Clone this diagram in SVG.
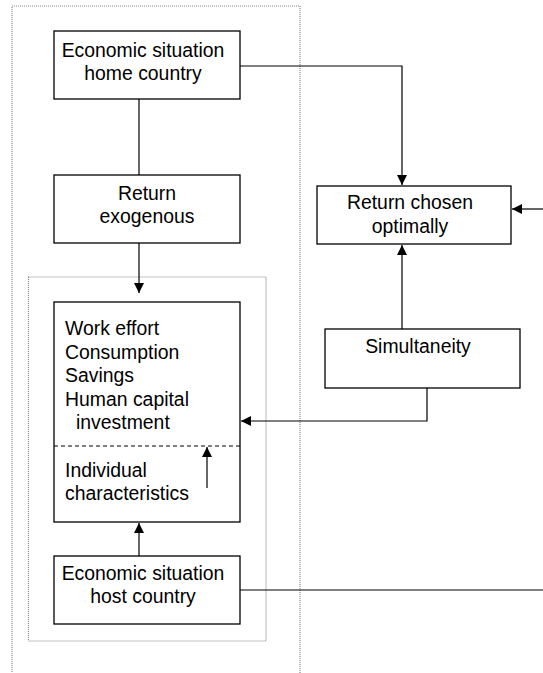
<svg xmlns="http://www.w3.org/2000/svg" width="543" height="673" viewBox="0 0 543 673">
<defs>
<style>
.box{fill:#fff;stroke:#000;stroke-width:1.3}
.dot{fill:none;stroke:#888;stroke-width:1.2;stroke-dasharray:1 1}
.ln{fill:none;stroke:#000;stroke-width:1.2}
text{font-family:"Liberation Sans",Arial,sans-serif;font-size:19.4px;fill:#000}
.c{text-anchor:middle}
</style>
<marker id="ah" viewBox="0 0 10 10" refX="10" refY="5" markerWidth="10" markerHeight="10" markerUnits="userSpaceOnUse" orient="auto">
<path d="M0,0 L10,5 L0,10 Z" fill="#000"/>
</marker>
</defs>
<rect width="543" height="673" fill="#fff"/>
<g id="frames">
<rect class="dot" x="12" y="6" width="288" height="700"/>
<rect class="dot" x="28.5" y="277" width="237.5" height="364"/>
</g>
<g id="connectors">
<line class="ln" x1="139" y1="99" x2="139" y2="175"/>
<line class="ln" x1="139" y1="243" x2="139" y2="293" marker-end="url(#ah)"/>
<polyline class="ln" points="240,66 402,66 402,185" marker-end="url(#ah)"/>
<line class="ln" x1="543" y1="209" x2="512" y2="209" marker-end="url(#ah)"/>
<line class="ln" x1="402" y1="329" x2="402" y2="245" marker-end="url(#ah)"/>
<polyline class="ln" points="427,388 427,421 241,421" marker-end="url(#ah)"/>
<line class="ln" x1="139" y1="556" x2="139" y2="523" marker-end="url(#ah)"/>
<line class="ln" x1="240" y1="590" x2="543" y2="590"/>
</g>
<g id="home">
<rect class="box" x="54" y="31" width="186" height="68"/>
<text class="c" x="143" y="57">Economic situation</text>
<text class="c" x="143" y="80">home country</text>
</g>
<g id="exog">
<rect class="box" x="54" y="175" width="186" height="68"/>
<text class="c" x="147" y="200">Return</text>
<text class="c" x="147" y="223">exogenous</text>
</g>
<g id="decisions">
<rect class="box" x="54" y="302" width="186" height="220"/>
<line x1="54" y1="446" x2="240" y2="446" stroke="#000" stroke-width="1.2" stroke-dasharray="4 3"/>
<line class="ln" x1="207" y1="488" x2="207" y2="447" marker-end="url(#ah)"/>
<text x="65" y="335">Work effort</text>
<text x="65" y="359">Consumption</text>
<text x="65" y="382">Savings</text>
<text x="65" y="406">Human capital</text>
<text x="76" y="429">investment</text>
<text x="65" y="477">Individual</text>
<text x="65" y="500">characteristics</text>
</g>
<g id="host">
<rect class="box" x="54" y="556" width="186" height="68"/>
<text class="c" x="143" y="580">Economic situation</text>
<text class="c" x="143" y="603">host country</text>
</g>
<g id="optimal">
<rect class="box" x="317" y="186" width="194" height="58"/>
<text class="c" x="410" y="209">Return chosen</text>
<text class="c" x="410" y="233">optimally</text>
</g>
<g id="simul">
<rect class="box" x="325" y="329" width="195" height="59"/>
<text class="c" x="418" y="353">Simultaneity</text>
</g>
</svg>
